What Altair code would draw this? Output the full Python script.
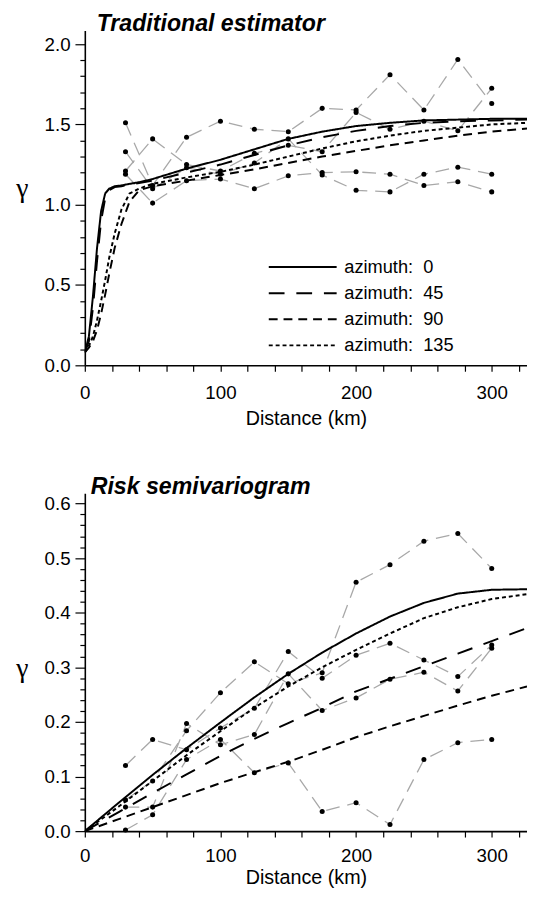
import altair as alt
import pandas as pd

# ---------------- data ----------------
lags = [30, 50, 75, 100, 125, 150, 175, 200, 225, 250, 275, 300]
azimuths = ["0", "45", "90", "135"]

# Traditional estimator - experimental values (one list per direction)
trad_emp_0 = [1.51, 1.12, 1.42, 1.52, 1.47, 1.455, 1.60, 1.59, 1.81, 1.59, 1.905, 1.63]
trad_emp_45 = [1.21, 1.41, 1.25, 1.21, 1.32, 1.37, 1.33, 1.575, 1.47, 1.52, 1.46, 1.725]
trad_emp_90 = [1.33, 1.10, 1.23, 1.19, 1.26, 1.41, 1.185, 1.09, 1.08, 1.19, 1.234, 1.19]
trad_emp_135 = [1.19, 1.01, 1.15, 1.16, 1.10, 1.18, 1.20, 1.205, 1.19, 1.12, 1.143, 1.08]

# Traditional estimator - fitted models
trad_model_dist = [0, 3, 6, 9, 12, 15, 18, 22, 27, 33, 40, 50, 75, 100, 125, 150, 175, 200, 225, 250, 275, 300, 326]
trad_model_0 = [0.08, 0.18, 0.43, 0.73, 0.96, 1.07, 1.10, 1.115, 1.12, 1.13, 1.14, 1.16, 1.225, 1.28, 1.345, 1.41, 1.455, 1.49, 1.51, 1.525, 1.53, 1.535, 1.535]
trad_model_45 = [0.08, 0.15, 0.36, 0.65, 0.90, 1.04, 1.09, 1.11, 1.115, 1.125, 1.135, 1.15, 1.20, 1.25, 1.31, 1.37, 1.42, 1.46, 1.49, 1.51, 1.52, 1.525, 1.53]
trad_model_90 = [0.08, 0.11, 0.15, 0.22, 0.32, 0.44, 0.57, 0.73, 0.88, 1.02, 1.09, 1.115, 1.15, 1.185, 1.22, 1.26, 1.30, 1.335, 1.37, 1.40, 1.43, 1.455, 1.475]
trad_model_135 = [0.08, 0.12, 0.18, 0.28, 0.40, 0.53, 0.67, 0.82, 0.97, 1.07, 1.10, 1.13, 1.17, 1.205, 1.25, 1.30, 1.35, 1.395, 1.43, 1.46, 1.48, 1.50, 1.51]

# Risk semivariogram - experimental values
risk_emp_0 = [0.057, 0.092, 0.184, 0.2535, 0.310, 0.270, 0.290, 0.456, 0.488, 0.531, 0.545, 0.481]
risk_emp_45 = [0.120, 0.168, 0.149, 0.189, 0.225, 0.329, 0.280, 0.322, 0.344, 0.3135, 0.283, 0.341]
risk_emp_90 = [0.044, 0.044, 0.197, 0.158, 0.177, 0.288, 0.221, 0.244, 0.278, 0.291, 0.2566, 0.335]
risk_emp_135 = [0.002, 0.030, 0.131, 0.168, 0.107, 0.125, 0.036, 0.052, 0.012, 0.131, 0.162, 0.168]

# Risk semivariogram - fitted models
risk_model_dist = [0, 25, 50, 75, 100, 125, 150, 175, 200, 225, 250, 275, 300, 326]
risk_model_0 = [0, 0.052, 0.103, 0.152, 0.199, 0.245, 0.288, 0.327, 0.362, 0.393, 0.418, 0.435, 0.442, 0.443]
risk_model_45 = [0, 0.035, 0.070, 0.104, 0.138, 0.169, 0.198, 0.226, 0.256, 0.279, 0.302, 0.325, 0.348, 0.372]
risk_model_90 = [0, 0.022, 0.044, 0.066, 0.088, 0.108, 0.127, 0.149, 0.172, 0.192, 0.211, 0.230, 0.248, 0.265]
risk_model_135 = [0, 0.045, 0.092, 0.139, 0.183, 0.226, 0.265, 0.300, 0.332, 0.362, 0.390, 0.410, 0.425, 0.434]

x_ticks = [0, 20, 40, 60, 80, 100, 120, 140, 160, 180, 200, 220, 240, 260, 280, 300, 320]
trad_y_ticks = [round(i * 0.1, 1) for i in range(21)]
risk_y_ticks = [round(i * 0.02, 2) for i in range(31)]

dash_range = [[1, 0], [16, 12], [9, 6], [4, 3]]
FONT = "Liberation Sans"
NB = "\u00a0"


def long_emp(series):
    rows = []
    for az, vals in zip(azimuths, series):
        for d, v in zip(lags, vals):
            rows.append({"distance": d, "gamma": v, "azimuth": az})
    return pd.DataFrame(rows)


def long_model(dist, series):
    rows = []
    for az, vals in zip(azimuths, series):
        for d, v in zip(dist, vals):
            rows.append({"distance": d, "gamma": v, "azimuth": az})
    return pd.DataFrame(rows)


def panel(title, emp_df, mod_df, ymax, yticks, major_test, gamma_y, legend, height, dx,
          lab_pad, title_pad):
    xs = alt.Scale(domain=[0, 326], nice=False, zero=True)
    ys = alt.Scale(domain=[0, ymax], nice=False, zero=True)
    x_axis = alt.Axis(
        values=x_ticks,
        labelExpr="datum.value % 100 === 0 ? datum.label : ''",
        title="Distance (km)", titleFont=FONT, titleFontSize=20, titleFontWeight="normal",
        titleColor="black", titlePadding=title_pad,
        labelFont=FONT, labelFontSize=19, labelColor="black", labelPadding=lab_pad,
        tickSize=6, tickColor="black", tickWidth=1.2,
        domainColor="black", domainWidth=1.6, grid=False, labelFlush=False,
    )
    y_axis = alt.Axis(
        values=yticks,
        labelExpr=f"({major_test}) ? format(datum.value, '.1f') : ''",
        tickSize={"condition": {"test": major_test, "value": 10}, "value": 5},
        tickColor="black", tickWidth=1.2,
        labelFont=FONT, labelFontSize=19, labelColor="black", labelPadding=5,
        domainColor="black", domainWidth=1.6, grid=False, labelFlush=False,
        title="γ", titleFont="Liberation Serif", titleFontSize=28, titleFontWeight="normal",
        titleColor="black", titleAngle=0, titleAlign="center", titleBaseline="alphabetic",
        titleX=-64, titleY=gamma_y,
    )
    x_enc = alt.X("distance:Q", scale=xs, axis=x_axis)
    y_enc = alt.Y("gamma:Q", scale=ys, axis=y_axis)

    emp_lines = alt.Chart(emp_df).mark_line(
        color="#a8a8a8", strokeWidth=1.3, strokeDash=[14, 8]
    ).encode(x=x_enc, y=y_enc, detail="azimuth:N")

    if legend:
        leg = alt.Legend(
            title=None, orient="none", legendX=212, legendY=231,
            symbolType="M-5,0H5", symbolSize=190, symbolStrokeWidth=2,
            symbolStrokeColor="black", labelOffset=33,
            labelExpr=f"'azimuth:{NB}{NB}' + datum.label",
            labelFont=FONT, labelFontSize=18.5, labelColor="black",
            rowPadding=7.5,
        )
    else:
        leg = None
    curves = alt.Chart(mod_df).mark_line(color="black", strokeWidth=2, clip=True).encode(
        x=x_enc, y=y_enc,
        strokeDash=alt.StrokeDash(
            "azimuth:N",
            scale=alt.Scale(domain=azimuths, range=dash_range),
            legend=leg,
        ),
    )
    pts = alt.Chart(emp_df).mark_point(
        filled=True, color="black", size=26, opacity=1, shape="circle"
    ).encode(x=x_enc, y=y_enc)

    return alt.layer(emp_lines, curves, pts).properties(
        width=449, height=height,
        title=alt.TitleParams(
            title, anchor="start", frame="group", dx=dx, dy=-7, offset=-12,
            font=FONT, fontSize=23.5, fontWeight="bold", fontStyle="italic", color="black",
        ),
    )


trad_emp_df = long_emp([trad_emp_0, trad_emp_45, trad_emp_90, trad_emp_135])
trad_mod_df = long_model(trad_model_dist, [trad_model_0, trad_model_45, trad_model_90, trad_model_135])
risk_emp_df = long_emp([risk_emp_0, risk_emp_45, risk_emp_90, risk_emp_135])
risk_mod_df = long_model(risk_model_dist, [risk_model_0, risk_model_45, risk_model_90, risk_model_135])

top = panel(
    "Traditional estimator", trad_emp_df, trad_mod_df, 2.085, trad_y_ticks,
    "abs(datum.value * 2 - round(datum.value * 2)) < 0.000001", 169, True, 340, 12, 13, 6,
)
bottom = panel(
    "Risk semivariogram", risk_emp_df, risk_mod_df, 0.6186, risk_y_ticks,
    "abs(datum.value * 10 - round(datum.value * 10)) < 0.000001", 186, False, 343, 6, 10, 2,
)

chart = alt.vconcat(top, bottom, spacing=47).resolve_legend(
    strokeDash="independent"
).properties(
    padding={"left": 7, "top": -3, "right": 0, "bottom": 0},
    background="white",
).configure_view(stroke=None)

chart.save("out.html", embed_options={"renderer": "svg", "actions": False})
